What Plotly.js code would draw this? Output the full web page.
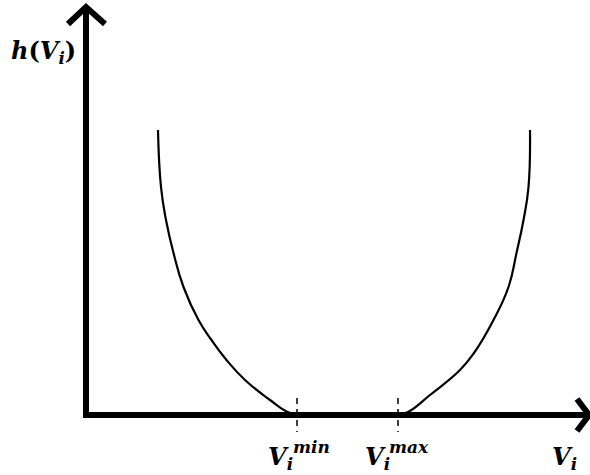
<!DOCTYPE html>
<html>
<head>
<meta charset="utf-8">
<script src="https://cdn.plot.ly/plotly-3.0.1.min.js"></script>
<style>
  html, body { margin: 0; padding: 0; background: #fff; }
  #chart { width: 590px; height: 475px; }
</style>
</head>
<body>
<div id="chart"></div>
<script>
// Branches of h(Vi) (arbitrary units)
const VI_LEFT = [1.44, 1.50, 1.60, 1.75, 1.95, 2.25, 2.51, 2.81, 3.18, 3.68, 4.01, 4.22];
const H_LEFT = [5.70, 4.56, 3.90, 3.24, 2.56, 1.90, 1.50, 1.10, 0.70, 0.30, 0.07, 0];
const VI_RIGHT = [6.24, 6.44, 6.88, 7.48, 7.76, 8.15, 8.45, 8.61, 8.75, 8.85, 8.88];
const H_RIGHT = [0, 0.06, 0.40, 0.90, 1.24, 1.90, 2.56, 3.24, 3.90, 4.56, 5.70];

// Flat section limits
const V_MIN = 4.22;
const V_MAX = 6.24;

const FONT = "DejaVu Serif";

const curve = { color: "#000", width: 2.2, shape: "spline", smoothing: 1.3, simplify: false };

const DATA = [
  { x: VI_LEFT, y: H_LEFT, mode: "lines", type: "scatter", line: curve, hoverinfo: "skip" },
  { x: VI_RIGHT, y: H_RIGHT, mode: "lines", type: "scatter", line: curve, hoverinfo: "skip" }
];

const axisStyle = { color: "#000", width: 6 };
const tickStyle = { color: "#000", width: 1.5, dash: "6px,5px" };

// Axes drawn as thick lines with open arrow heads
const SHAPES = [
  { type: "line", xref: "paper", yref: "paper", x0: 0, y0: -0.0075, x1: 0, y1: 1.015, line: axisStyle },
  { type: "line", xref: "paper", yref: "paper", x0: -0.006, y0: 0, x1: 1.002, y1: 0, line: axisStyle },
  { type: "path", xref: "paper", yref: "paper", path: "M -0.036 0.9775 L 0 1.02 L 0.038 0.9775", line: axisStyle },
  { type: "path", xref: "paper", yref: "paper", path: "M 0.982 0.04 L 1.006 0 L 0.982 -0.04", line: axisStyle },
  { type: "line", xref: "x", yref: "paper", x0: V_MIN, x1: V_MIN, y0: 0.0425, y1: -0.0425, line: tickStyle },
  { type: "line", xref: "x", yref: "paper", x0: V_MAX, x1: V_MAX, y0: 0.0425, y1: -0.0425, line: tickStyle }
];

const lbl = { family: FONT, size: 24, color: "#000" };
const supFont = { family: FONT, size: 17, color: "#000" };

const ANNOTATIONS = [
  { xref: "paper", yref: "paper", x: -0.086, y: 0.9075, xanchor: "center", yanchor: "middle",
    text: "<b><i>h</i>(<i>V</i><sub><i>i</i></sub>)</b>", showarrow: false, font: lbl },
  // V_i^min
  { xref: "x", yref: "paper", x: V_MIN, y: -0.1075, xanchor: "right", yanchor: "middle", xshift: -2,
    text: "<b><i>V</i><sub><i>i</i></sub></b>", showarrow: false, font: lbl },
  { xref: "x", yref: "paper", x: V_MIN, y: -0.08, xanchor: "left", yanchor: "middle", xshift: -6,
    text: "<b><i>min</i></b>", showarrow: false, font: supFont },
  // V_i^max
  { xref: "x", yref: "paper", x: V_MAX, y: -0.1075, xanchor: "right", yanchor: "middle", xshift: -6,
    text: "<b><i>V</i><sub><i>i</i></sub></b>", showarrow: false, font: lbl },
  { xref: "x", yref: "paper", x: V_MAX, y: -0.08, xanchor: "left", yanchor: "middle", xshift: -11,
    text: "<b><i>max</i></b>", showarrow: false, font: supFont },
  // axis name
  { xref: "paper", yref: "paper", x: 0.956, y: -0.1075, xanchor: "center", yanchor: "middle",
    text: "<b><i>V</i><sub><i>i</i></sub></b>", showarrow: false, font: lbl }
];

const LAYOUT = {
  width: 590,
  height: 475,
  margin: { l: 86, r: 4, t: 15, b: 60 },
  paper_bgcolor: "#fff",
  plot_bgcolor: "#fff",
  showlegend: false,
  xaxis: { range: [0, 10], visible: false, fixedrange: true },
  yaxis: { range: [0, 8], visible: false, fixedrange: true },
  shapes: SHAPES,
  annotations: ANNOTATIONS
};

Plotly.newPlot("chart", DATA, LAYOUT, { displayModeBar: false, staticPlot: true });
</script>
</body>
</html>
